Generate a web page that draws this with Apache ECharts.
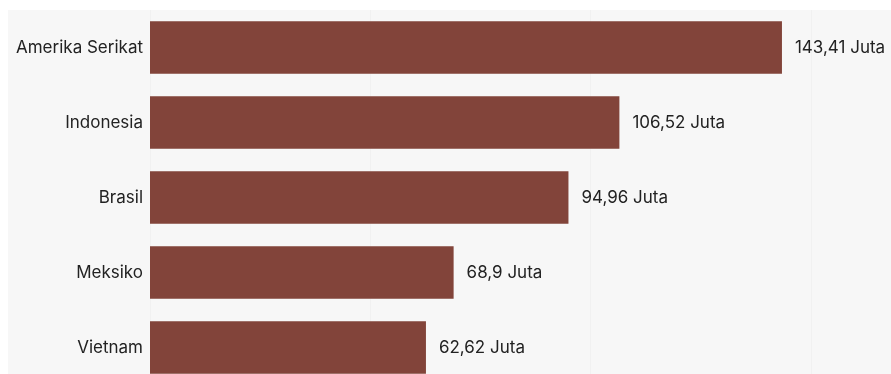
<!DOCTYPE html>
<html>
<head>
<meta charset="utf-8">
<script src="https://cdn.jsdelivr.net/npm/echarts@6/dist/echarts.min.js"></script>
<style>
  html, body { margin: 0; padding: 0; background: #fff; overflow: hidden; }
  #chart { position: absolute; left: 8px; top: 10px; width: 883px; height: 375px; background: #f7f7f7; }
</style>
</head>
<body>
<div id="chart"></div>
<script>
// negara dan jumlah (juta)
const categories = ['Amerika Serikat', 'Indonesia', 'Brasil', 'Meksiko', 'Vietnam']
const values = [143.41, 106.52, 94.96, 68.9, 62.62]

const chart = echarts.init(document.getElementById('chart'))

const fmt = (v) => String(v).replace('.', ',') + ' Juta'

chart.setOption({
  animation: false,
  grid: { left: 142, right: 80, top: 0, bottom: 0, containLabel: false },
  xAxis: {
    type: 'value',
    min: 0,
    max: 150,
    interval: 50,
    axisLabel: { show: false },
    axisLine: { show: false },
    axisTick: { show: false },
    splitLine: { show: true, lineStyle: { color: '#f1f1f1', width: 1 } }
  },
  yAxis: {
    type: 'category',
    data: categories,
    inverse: true,
    axisLine: { show: false },
    axisTick: { show: false },
    axisLabel: {
      color: '#222',
      fontSize: 17,
      fontFamily: 'Inter',
      margin: 7
    }
  },
  series: [{
    type: 'bar',
    data: values,
    barCategoryGap: '30%',
    itemStyle: { color: '#82443a' },
    label: {
      show: true,
      position: 'right',
      distance: 13,
      color: '#222',
      fontSize: 17,
      fontFamily: 'Inter',
      formatter: (p) => fmt(p.value)
    }
  }]
})
</script>
</body>
</html>
